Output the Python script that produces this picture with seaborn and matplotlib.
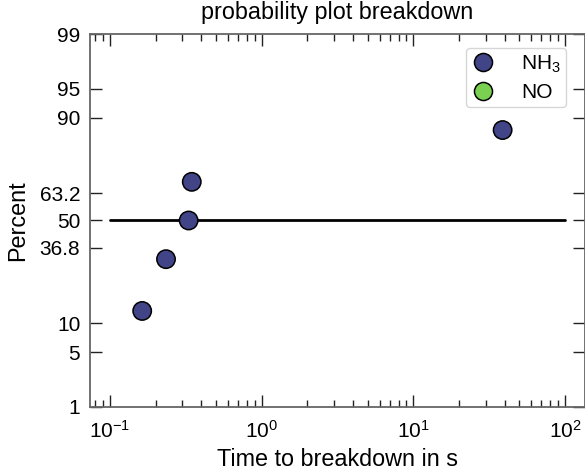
import math
import numpy as np
import pandas as pd
import matplotlib
matplotlib.use("Agg")
import matplotlib.pyplot as plt
import seaborn as sns
from matplotlib.lines import Line2D
from matplotlib.ticker import FixedLocator, FixedFormatter, NullLocator

# breakdown times (s) and median rank (%)
nh3_time = [0.163, 0.234, 0.330, 0.346, 38.8]
nh3_percent = [12.96, 31.48, 50.0, 68.52, 87.04]
# NO: in the legend but no points on the plot
no_time = []
no_percent = []

series_names = ["NH$_3$", "NO"]
series_colors = ["#414487", "#7AD151"]

y_ticks = [1, 5, 10, 36.8, 50, 63.2, 90, 95, 99]
y_ticklabels = ["1", "5", "10", "36.8", "50", "63.2", "90", "95", "99"]

ref_level = 50
ref_span = [0.1, 100]


# probability (normal quantile) axis for the percent values
_erf = np.vectorize(math.erf, otypes=[float])


def pct_to_z(p):
    p = np.clip(np.asarray(p, dtype=float) / 100.0, 1e-9, 1 - 1e-9)
    lo = np.full(p.shape, -8.0)
    hi = np.full(p.shape, 8.0)
    for _ in range(55):
        mid = 0.5 * (lo + hi)
        below = 0.5 * (1 + _erf(mid / math.sqrt(2))) < p
        lo = np.where(below, mid, lo)
        hi = np.where(below, hi, mid)
    return 0.5 * (lo + hi)


def z_to_pct(z):
    return 50.0 * (1 + _erf(np.asarray(z, dtype=float) / math.sqrt(2)))


sns.set_style("ticks")
plt.rcParams['font.family'] = ['Liberation Sans', 'DejaVu Sans']
plt.rcParams['mathtext.fontset'] = 'custom'
plt.rcParams['mathtext.rm'] = 'Liberation Sans'
plt.rcParams['mathtext.it'] = 'Liberation Sans:italic'
for key in ['text.color', 'axes.labelcolor', 'xtick.labelcolor', 'ytick.labelcolor']:
    plt.rcParams[key] = 'black'

df = pd.DataFrame({
    "time": nh3_time + no_time,
    "percent": nh3_percent + no_percent,
    "gas": [series_names[0]] * len(nh3_time) + [series_names[1]] * len(no_time),
})
palette = dict(zip(series_names, series_colors))

fig = plt.figure(figsize=(5.85, 4.70), dpi=100)
ax = fig.add_axes([90 / 585, 1 - 407 / 470, 495 / 585, 373 / 470])
ax.set_xscale("log")
ax.set_yscale("function", functions=(pct_to_z, z_to_pct))

ax.plot(ref_span, [ref_level, ref_level], color="black", lw=2, zorder=2)
sns.scatterplot(data=df, x="time", y="percent", hue="gas", hue_order=series_names,
                palette=palette, s=175, edgecolor="black", linewidth=1.1,
                legend=False, ax=ax, zorder=3)

ax.set_xlim(10 ** -1.132, 10 ** 2.132)
ax.set_ylim(1, 99)
ax.yaxis.set_major_locator(FixedLocator(y_ticks))
ax.yaxis.set_major_formatter(FixedFormatter(y_ticklabels))
ax.yaxis.set_minor_locator(NullLocator())

ax.tick_params(which="both", direction="in", top=True, right=True,
               labelsize=15, color="#222222", width=1)
ax.tick_params(which="major", length=8.5)
ax.tick_params(which="minor", length=5)
ax.tick_params(axis="x", pad=9)
ax.tick_params(axis="y", pad=7)
for sp in ax.spines.values():
    sp.set_color("#666666")
    sp.set_linewidth(1.3)

ax.set_xlabel("Time to breakdown in s", fontsize=16.8, labelpad=4.5)
ax.set_ylabel("Percent", fontsize=16.8, labelpad=7.5)
ax.set_title("probability plot breakdown", fontsize=16.8, y=1.0, pad=10.5)

handles = [Line2D([], [], ls="", marker="o", markersize=13, markerfacecolor=c,
                  markeredgecolor="black", markeredgewidth=1.1) for c in series_colors]
ax.legend(handles, series_names, loc="upper right", fontsize=15, frameon=True,
          handlelength=1.15, handletextpad=1.25, borderpad=0.25, labelspacing=0.4,
          borderaxespad=0, bbox_to_anchor=(476 / 495, 1 - 14 / 373),
          edgecolor="#cccccc", fancybox=True)

fig.savefig("out.png", dpi=100)
plt.close(fig)
